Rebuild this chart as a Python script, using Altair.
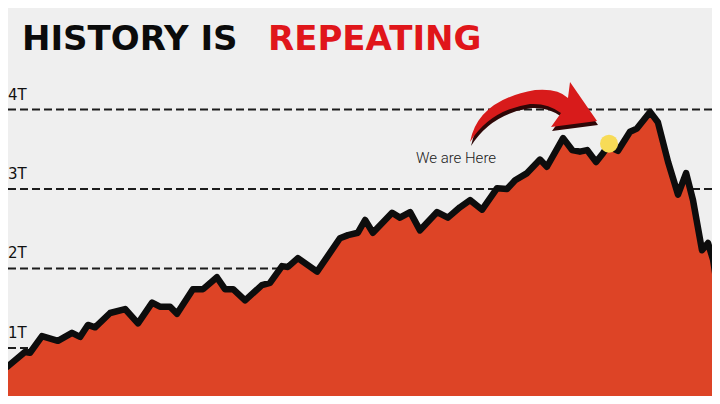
import altair as alt
import pandas as pd

# ---- data (time index in months, value in trillions) ----
months = [0, 2.3, 8.3, 10, 14, 19.3, 24, 26.7, 29.3, 31.7, 36.7, 41.7, 46, 50.7,
          53.3, 56.7, 59, 64.3, 67.7, 72.3, 75, 77.7, 81.7, 87.3, 90, 94, 96, 99.3,
          105.7, 113.3, 116, 119.3, 121.7, 124.3, 130.7, 133.3, 136.7, 140, 145.7,
          149.3, 153.3, 156.7, 160.7, 165.7, 169, 171.7, 175.7, 180, 182.3, 187.7,
          190.7, 193.3, 195.7, 198.7, 201, 202.7, 206, 210, 212.3, 216.7, 219.3,
          222.7, 226, 228.7, 231, 234, 236, 237.7, 240]
values = [0.82, 0.76, 0.95, 0.94, 1.15, 1.09, 1.19, 1.14, 1.29, 1.26, 1.44, 1.49,
          1.31, 1.57, 1.52, 1.52, 1.43, 1.74, 1.74, 1.89, 1.74, 1.74, 1.60, 1.79,
          1.82, 2.03, 2.02, 2.13, 1.96, 2.38, 2.42, 2.45, 2.61, 2.45, 2.70, 2.64,
          2.71, 2.48, 2.71, 2.64, 2.77, 2.86, 2.74, 3.01, 3.00, 3.11, 3.20, 3.37,
          3.28, 3.64, 3.49, 3.47, 3.49, 3.34, 3.45, 3.54, 3.48, 3.72, 3.76, 3.97,
          3.84, 3.34, 2.93, 3.20, 2.86, 2.23, 2.32, 2.11, 1.54]
tick_values = [1, 2, 3, 4]
tick_labels = ["1T", "2T", "3T", "4T"]
title_black = ["HISTORY IS"]
title_red = ["REPEATING"]
marker_month = [203]
marker_value = [3.57]
note_text = ["We are Here"]

df = pd.DataFrame({"month": months, "value": values})
ticks = pd.DataFrame({"value": tick_values, "label": tick_labels})
marker = pd.DataFrame({"month": marker_month, "value": marker_value})
one = pd.DataFrame({"k": [0]})

W, H = 704, 388
xs = alt.Scale(domain=[8 / 3, 712 / 3], nice=False, zero=False)
ys = alt.Scale(domain=[0.396, 5.277], nice=False, zero=False)

ARROW = ("M -1 0.465 Q -0.874 -0.197 0.024 -0.354 Q 0.386 -0.386 0.543 -0.228 "
         "L 0.575 -0.48 L 1 0.134 L 0.276 0.228 L 0.433 0.008 "
         "Q 0.228 -0.15 -0.055 -0.134 Q -0.685 -0.039 -1 0.465 Z")

grid = alt.Chart(ticks).mark_rule(color="#1c1c1c", strokeWidth=2, strokeDash=[8, 4]).encode(
    y=alt.Y("value:Q", scale=ys, axis=None)
)
tick_text = alt.Chart(ticks).mark_text(
    align="left", baseline="bottom", dy=-7, font="DejaVu Sans", fontSize=15, color="#111"
).encode(
    x=alt.value(0),
    y=alt.Y("value:Q", scale=ys, axis=None),
    text="label:N",
)

area = alt.Chart(df).mark_area(color="#DD4426", clip=True).encode(
    x=alt.X("month:Q", scale=xs, axis=None),
    y=alt.Y("value:Q", scale=ys, axis=None),
    y2=alt.datum(0),
)
line = alt.Chart(df).mark_line(
    color="#0d0d0d", strokeWidth=6.5, strokeJoin="round", strokeCap="round", clip=True
).encode(
    x=alt.X("month:Q", scale=xs, axis=None),
    y=alt.Y("value:Q", scale=ys, axis=None),
)
dot = alt.Chart(marker).mark_circle(size=324, color="#F7DB57", opacity=1).encode(
    x=alt.X("month:Q", scale=xs, axis=None),
    y=alt.Y("value:Q", scale=ys, axis=None),
)

arrow_shadow = alt.Chart(one).mark_point(
    shape=ARROW, size=16129, filled=True, color="#2e0707", opacity=1, strokeWidth=0
).encode(x=alt.value(526.5), y=alt.value(108.5))
arrow = alt.Chart(one).mark_point(
    shape=ARROW, size=16129, filled=True, color="#D81B1B", opacity=1, strokeWidth=0
).encode(x=alt.value(525.5), y=alt.value(104.5))

note = alt.Chart(pd.DataFrame({"t": note_text})).mark_text(
    align="left", baseline="alphabetic", font="Roboto", fontSize=15, fontWeight=300,
    color="#1a1a1a"
).encode(x=alt.value(408), y=alt.value(155), text="t:N")

t1 = alt.Chart(pd.DataFrame({"t": title_black})).mark_text(
    align="left", baseline="alphabetic", font="DejaVu Sans", fontSize=34,
    fontWeight="bold", color="#0b0b0b"
).encode(x=alt.value(14), y=alt.value(42), text="t:N")
t2 = alt.Chart(pd.DataFrame({"t": title_red})).mark_text(
    align="left", baseline="alphabetic", font="DejaVu Sans", fontSize=34,
    fontWeight="bold", color="#E0161A"
).encode(x=alt.value(260), y=alt.value(42), text="t:N")

chart = alt.layer(
    grid, tick_text, area, line, dot, arrow_shadow, arrow, note, t1, t2
).properties(
    width=W, height=H, padding=0, autosize="none", background="#EFEFEF"
).configure_view(stroke=None)

chart.save("out.html", embed_options={"renderer": "svg", "actions": False})
